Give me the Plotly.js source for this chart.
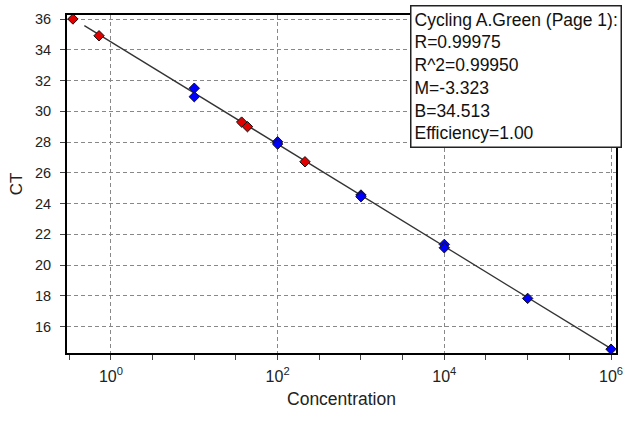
<!DOCTYPE html>
<html>
<head>
<meta charset="utf-8">
<script src="https://cdn.plot.ly/plotly-3.0.1.min.js"></script>
<style>html,body{margin:0;padding:0;background:#fff;}#chart{width:634px;height:421px;}</style>
</head>
<body>
<div id="chart"></div>
<script>
// Standards (blue)
const stdConc = [10, 10, 100, 100, 1000, 1000, 10000, 10000, 100000, 1000000];
const stdCT   = [31.5, 30.95, 28.02, 27.87, 24.56, 24.45, 21.35, 21.13, 17.84, 14.54];
// Unknowns (red)
const unkConc = [0.35, 0.72, 37, 43.5, 213];
const unkCT   = [36.0, 34.91, 29.3, 29.0, 26.72];
// Regression (from the legend)
const fitM = -3.323;
const fitB = 34.513;
const fitConcRange = [0.48, 1000000];
// Tick labels
const xTickVals = [1, 100, 10000, 1000000];
const xTickText = ['10<sup>0</sup>', '10<sup>2</sup>', '10<sup>4</sup>', '10<sup>6</sup>'];
const xMinorVals = [0.316, 3.162, 10, 31.62, 316.2, 1000, 3162, 31623, 100000, 316228];
const yTickVals = [16, 18, 20, 22, 24, 26, 28, 30, 32, 34, 36];
const statsLines = ['Cycling A.Green (Page 1):', 'R=0.99975', 'R^2=0.99950', 'M=-3.323', 'B=34.513', 'Efficiency=1.00'];

const fitCT = fitConcRange.map(c => fitM * Math.log10(c) + fitB);

const traces = [
  {x: fitConcRange, y: fitCT, mode: 'lines', type: 'scatter',
   line: {color: '#333', width: 1.3}, hoverinfo: 'skip'},
  {x: stdConc, y: stdCT, mode: 'markers', type: 'scatter',
   marker: {symbol: 'diamond', size: 8, color: '#0000ff', line: {color: '#111', width: 1}}},
  {x: unkConc, y: unkCT, mode: 'markers', type: 'scatter',
   marker: {symbol: 'diamond', size: 8, color: '#e00000', line: {color: '#111', width: 1}}}
];

const font = 'Liberation Sans, Arial, sans-serif';
const layout = {
  width: 634, height: 421,
  margin: {l: 67, r: 18, t: 15, b: 68},
  paper_bgcolor: '#fff', plot_bgcolor: '#fff',
  showlegend: false,
  font: {family: font, color: '#222', size: 14},
  xaxis: {
    type: 'log', range: [-0.527, 6.06],
    tickmode: 'array', tickvals: xTickVals, ticktext: xTickText,
    ticks: 'outside', ticklen: 5, tickcolor: '#444', tickwidth: 1,
    ticklabelstandoff: 3,
    showgrid: true, gridcolor: '#888', griddash: '4px,3px', gridwidth: 1,
    minor: {tickmode: 'array', tickvals: xMinorVals, ticks: 'outside', ticklen: 5, tickcolor: '#444', showgrid: false},
    showline: true, linecolor: '#000', linewidth: 2, mirror: true,
    zeroline: false,
    tickfont: {size: 16, family: font, color: '#222'},
    title: {text: 'Concentration', font: {size: 17.5, family: font, color: '#222'}, standoff: 9},
    automargin: false
  },
  yaxis: {
    range: [14.29, 36.26],
    tickmode: 'array', tickvals: yTickVals,
    ticks: 'outside', ticklen: 5, tickcolor: '#444',
    ticklabelstandoff: 6,
    showgrid: true, gridcolor: '#888', griddash: '4px,3px', gridwidth: 1,
    showline: true, linecolor: '#000', linewidth: 2, mirror: true,
    zeroline: false,
    tickfont: {size: 14.5, family: font, color: '#222'},
    title: {text: 'CT', font: {size: 17, family: font, color: '#222'}, standoff: 8},
    automargin: false
  },
  annotations: [{
    xref: 'paper', yref: 'paper', x: 0.6248, y: 1.0296,
    xanchor: 'left', yanchor: 'top', align: 'left', showarrow: false,
    text: statsLines.join('<br>'),
    font: {size: 17.5, family: font, color: '#111'},
    bgcolor: '#fff', bordercolor: '#222', borderwidth: 1.5, borderpad: 3
  }]
};

Plotly.newPlot('chart', traces, layout, {displayModeBar: false, staticPlot: true});
</script>
</body>
</html>
